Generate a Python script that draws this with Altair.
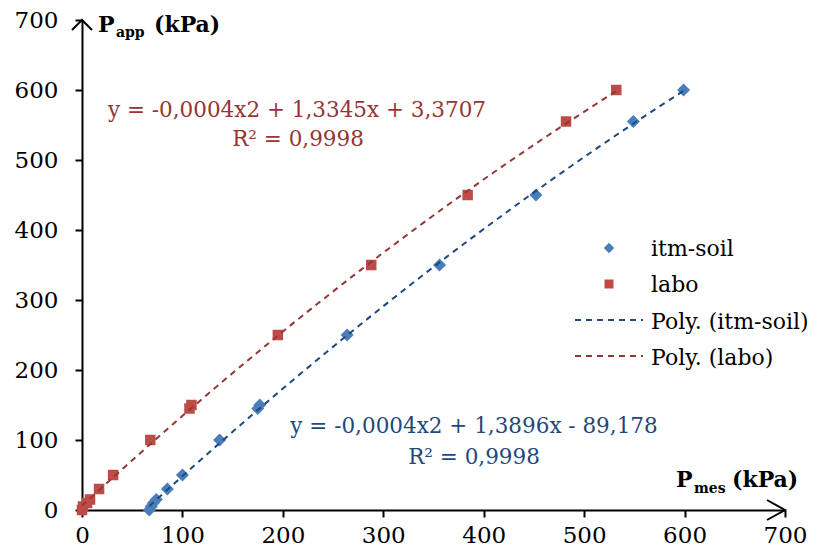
import altair as alt
import pandas as pd

# ---- data ----
itm_x = [67, 69, 71, 74, 85, 100, 137, 175, 177, 264, 356, 452, 549, 599]
itm_y = [0, 5, 10, 15, 30, 50, 100, 145, 150, 250, 350, 450, 555, 600]
labo_x = [0, 1, 5, 8, 17, 31, 68, 107, 109, 195, 288, 384, 482, 532]
labo_y = [0, 5, 10, 15, 30, 50, 100, 145, 150, 250, 350, 450, 555, 600]
tick_values = [0, 100, 200, 300, 400, 500, 600, 700]
axis_max = 700

legend_labels = ["itm-soil", "labo", "Poly. (itm-soil)", "Poly. (labo)"]
eq_labo = ["y = -0,0004x2 + 1,3345x + 3,3707", "R² = 0,9998"]
eq_itm = ["y = -0,0004x2 + 1,3896x - 89,178", "R² = 0,9998"]

BLUE_PT = "#4A7EBB"
RED_PT = "#BE4B48"
BLUE_LN = "#1F497D"
RED_LN = "#943634"
FONT = "DejaVu Serif"

df = pd.concat([
    pd.DataFrame({"series": "itm-soil", "x": itm_x, "y": itm_y}),
    pd.DataFrame({"series": "labo", "x": labo_x, "y": labo_y}),
])

xs = alt.Scale(domain=[0, axis_max], nice=False, zero=True)
ys = alt.Scale(domain=[0, axis_max], nice=False, zero=True)
xax = alt.Axis(values=tick_values, title="", grid=False, labelFlush=False,
               labelPadding=7)
yax = alt.Axis(values=tick_values, title="", grid=False, labelFlush=False,
               labelPadding=17)

base = alt.Chart(df)
X = alt.X("x:Q", scale=xs, axis=xax)
Y = alt.Y("y:Q", scale=ys, axis=yax)

pts_itm = base.transform_filter(alt.datum.series == "itm-soil").mark_point(
    shape="diamond", filled=True, size=170, opacity=1, color=BLUE_PT
).encode(x=X, y=Y)

pts_labo = base.transform_filter(alt.datum.series == "labo").mark_point(
    shape="square", filled=True, size=110, opacity=1, color=RED_PT
).encode(x=X, y=Y)

fit_itm = base.transform_filter(alt.datum.series == "itm-soil").transform_regression(
    "x", "y", method="poly", order=2
).mark_line(color=BLUE_LN, strokeDash=[6, 5], strokeWidth=2).encode(x=X, y=Y)

fit_labo = base.transform_filter(alt.datum.series == "labo").transform_regression(
    "x", "y", method="poly", order=2
).mark_line(color=RED_LN, strokeDash=[6, 5], strokeWidth=2).encode(x=X, y=Y)

# axis arrowheads at the axis ends
arrows = pd.DataFrame({"x": [axis_max, 0], "y": [0, axis_max],
                       "dir": ["right", "up"]})
arrow_right = alt.Chart(arrows).transform_filter(alt.datum.dir == "right").mark_point(
    shape="M -1.8 -1 L 0 0 L -1.8 1", filled=False, size=400, stroke="black",
    strokeWidth=2, opacity=1
).encode(x=X, y=Y)
arrow_up = alt.Chart(arrows).transform_filter(alt.datum.dir == "up").mark_point(
    shape="M -1 1 L 0 0 L 1 1", filled=False, size=400, stroke="black",
    strokeWidth=2, opacity=1
).encode(x=X, y=Y)

one = alt.Data(values=[{"a": 1}])


def txt(text, x, y, size, color="black", bold=False, align="left"):
    return alt.Chart(one).mark_text(
        text=text, font=FONT, fontSize=size, color=color,
        fontWeight="bold" if bold else "normal", align=align, baseline="alphabetic"
    ).encode(x=alt.value(x), y=alt.value(y))


# axis titles
titles = [
    txt("P", 16, 12, 22, bold=True),
    txt("app", 34, 17, 14, bold=True),
    txt("(kPa)", 72, 12, 22, bold=True),
    txt("P", 594, 467, 22, bold=True),
    txt("mes", 612, 473, 14, bold=True),
    txt("(kPa)", 650, 467, 22, bold=True),
]

# equations
eqs = [
    txt(eq_labo[0], 215, 97, 21.5, RED_LN, align="center"),
    txt(eq_labo[1], 216, 126, 21.5, RED_LN, align="center"),
    txt(eq_itm[0], 392, 413, 21.5, BLUE_LN, align="center"),
    txt(eq_itm[1], 392, 444, 21.5, BLUE_LN, align="center"),
]

# legend
leg_y = [236, 272, 309, 345]
legend = [
    alt.Chart(one).mark_point(shape="diamond", filled=True, size=110, opacity=1,
                              color=BLUE_PT).encode(x=alt.value(527), y=alt.value(228)),
    alt.Chart(one).mark_point(shape="square", filled=True, size=81, opacity=1,
                              color=RED_PT).encode(x=alt.value(527), y=alt.value(264)),
    alt.Chart(one).mark_rule(color=BLUE_LN, strokeDash=[6, 5], strokeWidth=2).encode(
        x=alt.value(493), x2=alt.value(561), y=alt.value(300)),
    alt.Chart(one).mark_rule(color=RED_LN, strokeDash=[6, 5], strokeWidth=2).encode(
        x=alt.value(493), x2=alt.value(561), y=alt.value(336)),
]
for lab, yy in zip(legend_labels, leg_y):
    legend.append(txt(lab, 569, yy, 22))

chart = alt.layer(
    pts_itm, pts_labo, fit_itm, fit_labo, arrow_right, arrow_up, *titles, *eqs, *legend
).properties(
    width=703, height=490,
    padding={"left": 74, "top": 12, "right": 28, "bottom": 40},
    autosize=alt.AutoSizeParams(type="none"),
).configure_view(strokeWidth=0).configure_axis(
    domainColor="black", domainWidth=2, tickColor="black", tickWidth=2, tickSize=7,
    labelFont=FONT, labelFontSize=23, labelColor="black",
)

chart.save("out.html", embed_options={"renderer": "svg", "actions": False})
